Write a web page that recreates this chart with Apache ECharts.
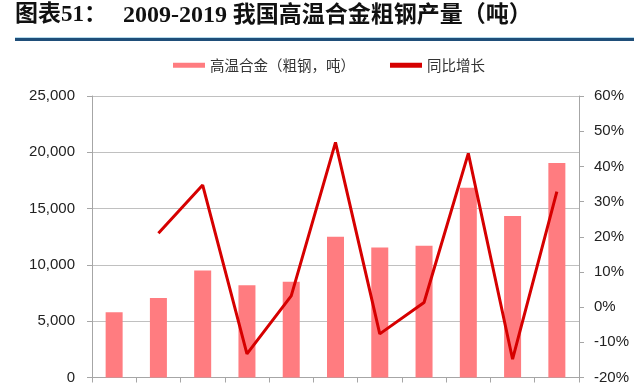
<!DOCTYPE html>
<html>
<head>
<meta charset="utf-8">
<script src="https://cdn.jsdelivr.net/npm/echarts@6/dist/echarts.min.js"></script>
<style>
html,body{margin:0;padding:0;background:#fff;}
#chart{width:634px;height:385px;}
</style>
</head>
<body>
<div id="chart"></div>
<script>
var years = ['2009','2010','2011','2012','2013','2014','2015','2016','2017','2018','2019'];
var output = [5800, 7050, 9500, 8200, 8500, 12500, 11550, 11700, 16850, 14350, 19050];
var yoy = [null, 0.21, 0.347, -0.133, 0.032, 0.468, -0.076, 0.013, 0.437, -0.148, 0.328];
var leftTicks = {min: 0, max: 25000, interval: 5000};
var rightTicks = {min: -0.2, max: 0.6, interval: 0.1};
var barName = '高温合金（粗钢，吨）';
var lineName = '同比增长';
var titleA = '图表51：';
var titleYears = '2009-2019';
var titleB = '我国高温合金粗钢产量（吨）';

var chart = echarts.init(document.getElementById('chart'), null, {renderer: 'canvas'});
var titleFont = '"Liberation Serif", "Noto Sans CJK SC", serif';
var labelFont = '"Liberation Sans", Arial, sans-serif';
chart.setOption({
  animation: false,
  backgroundColor: '#ffffff',
  title: [
    {text: titleA, left: 15, top: 4, padding: 0,
     textStyle: {fontFamily: titleFont, fontWeight: 'bold', fontSize: 23, color: '#111'}},
    {text: '{d|' + titleYears + '} {c|' + titleB + '}', left: 123, top: 4, padding: 0,
     textStyle: {fontFamily: titleFont, fontWeight: 'bold', fontSize: 23, color: '#111',
       rich: {
         d: {fontFamily: titleFont, fontWeight: 'bold', fontSize: 24, color: '#111'},
         c: {fontFamily: titleFont, fontWeight: 'bold', fontSize: 23, color: '#111'}
       }}}
  ],
  graphic: [
    {type: 'rect', shape: {x: 15, y: 37, width: 619, height: 1}, style: {fill: '#b5dcee'}},
    {type: 'rect', shape: {x: 15, y: 38, width: 619, height: 3}, style: {fill: '#1f4e79'}}
  ],
  legend: {
    left: 173, top: 58, padding: 0,
    itemWidth: 32, itemHeight: 5, itemGap: 35,
    textStyle: {fontFamily: '"Noto Sans CJK SC", sans-serif', fontSize: 14.5, color: '#333'},
    data: [
      {name: barName, icon: 'rect'},
      {name: lineName, icon: 'rect'}
    ]
  },
  grid: {left: 92, right: 55, top: 96, bottom: 7},
  xAxis: {
    type: 'category',
    data: years,
    boundaryGap: true,
    axisLine: {lineStyle: {color: '#a6a6a6', width: 1}},
    axisTick: {show: true, length: 5, lineStyle: {color: '#a6a6a6'}},
    axisLabel: {show: false}
  },
  yAxis: [
    {
      type: 'value', min: leftTicks.min, max: leftTicks.max, interval: leftTicks.interval,
      axisLine: {show: true, lineStyle: {color: '#a6a6a6'}},
      axisTick: {show: true, length: 5, lineStyle: {color: '#a6a6a6'}},
      splitLine: {show: true, lineStyle: {color: '#c0c0c0', width: 1}},
      axisLabel: {
        margin: 17, fontFamily: labelFont, fontSize: 15, color: '#222',
        formatter: function (v) { return v.toLocaleString('en-US'); }
      }
    },
    {
      type: 'value', min: rightTicks.min, max: rightTicks.max, interval: rightTicks.interval,
      position: 'right',
      axisLine: {show: true, lineStyle: {color: '#a6a6a6'}},
      axisTick: {show: true, length: 5, lineStyle: {color: '#a6a6a6'}},
      splitLine: {show: false},
      axisLabel: {
        margin: 15, fontFamily: labelFont, fontSize: 15, color: '#222',
        formatter: function (v) { return Math.round(v * 100) + '%'; }
      }
    }
  ],
  series: [
    {
      name: barName, type: 'bar', data: output, yAxisIndex: 0,
      barWidth: 17,
      itemStyle: {color: '#ff7c80'}
    },
    {
      name: lineName, type: 'line', data: yoy, yAxisIndex: 1,
      showSymbol: false, symbol: 'none',
      connectNulls: false,
      lineStyle: {color: '#d60000', width: 3},
      itemStyle: {color: '#d60000'}
    }
  ]
});
</script>
</body>
</html>
